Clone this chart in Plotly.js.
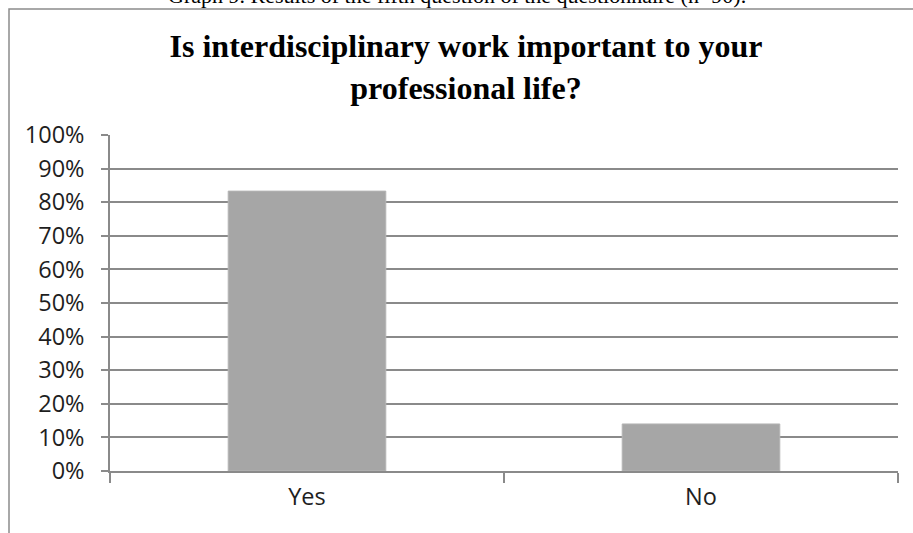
<!DOCTYPE html>
<html>
<head>
<meta charset="utf-8">
<script src="https://cdn.plot.ly/plotly-3.0.1.min.js"></script>
<style>
html,body{margin:0;padding:0;background:#fff;}
#chart{width:913px;height:533px;}
</style>
</head>
<body>
<div id="chart"></div>
<script>
// Data
var categories = ['Yes', 'No'];
var shares = [0.833, 0.14];
var yTickValues = [0, 0.1, 0.2, 0.3, 0.4, 0.5, 0.6, 0.7, 0.8, 0.9, 1.0];
var yTickLabels = ['0%', '10%', '20%', '30%', '40%', '50%', '60%', '70%', '80%', '90%', '100%'];
var chartTitle = 'Is interdisciplinary work important to your<br>professional life?';
var captionText = 'Graph 9. Results of the fifth question of the questionnaire (n=90).';

var axisGray = '#8a8a8a';
var labelFont = {family: '"Open Sans", "Liberation Sans", sans-serif', size: 23.5, color: '#1e1e1e'};

var trace = {
  type: 'bar',
  x: categories,
  y: shares,
  marker: {color: '#a6a6a6', line: {color: '#b4b4b4', width: 1}},
  hoverinfo: 'x+y'
};

var layout = {
  width: 913,
  height: 533,
  margin: {l: 110, r: 15, t: 135, b: 62},
  paper_bgcolor: '#ffffff',
  plot_bgcolor: '#ffffff',
  showlegend: false,
  bargap: 0.6,
  title: {
    text: chartTitle,
    font: {family: '"Liberation Serif", "Times New Roman", serif', size: 32, color: '#000', weight: 'bold'},
    x: 466 / 913,
    xanchor: 'center',
    xref: 'container',
    yref: 'container',
    y: 1 - 57 / 533,
    yanchor: 'top'
  },
  xaxis: {
    type: 'category',
    showline: true,
    linecolor: axisGray,
    linewidth: 1.5,
    ticks: 'outside',
    tickson: 'boundaries',
    ticklen: 10,
    tickwidth: 1.5,
    tickcolor: axisGray,
    showgrid: false,
    tickfont: labelFont,
    ticklabelstandoff: 4,
    fixedrange: true
  },
  yaxis: {
    range: [0, 1],
    tickvals: yTickValues,
    ticktext: yTickLabels,
    showline: true,
    linecolor: axisGray,
    linewidth: 1.5,
    ticks: 'outside',
    ticklen: 7,
    tickwidth: 1.5,
    tickcolor: axisGray,
    showgrid: true,
    gridcolor: axisGray,
    gridwidth: 1.5,
    zeroline: false,
    tickfont: labelFont,
    ticklabelstandoff: 12,
    fixedrange: true
  },
  shapes: [{
    type: 'rect',
    xref: 'paper', yref: 'paper',
    x0: (9 - 110) / 788, x1: (930 - 110) / 788,
    y0: (471 - 560) / 336, y1: (471 - 9) / 336,
    line: {color: '#8c8c8c', width: 1.5},
    fillcolor: 'rgba(0,0,0,0)',
    layer: 'below'
  }],
  annotations: [{
    text: captionText,
    xref: 'paper', yref: 'paper',
    x: (457 - 110) / 788,
    y: (471 - 10) / 336,
    xanchor: 'center', yanchor: 'bottom',
    showarrow: false,
    font: {family: '"Liberation Serif", "Times New Roman", serif', size: 22, color: '#000'}
  }]
};

Plotly.newPlot('chart', [trace], layout, {displayModeBar: false, staticPlot: false});
</script>
</body>
</html>
